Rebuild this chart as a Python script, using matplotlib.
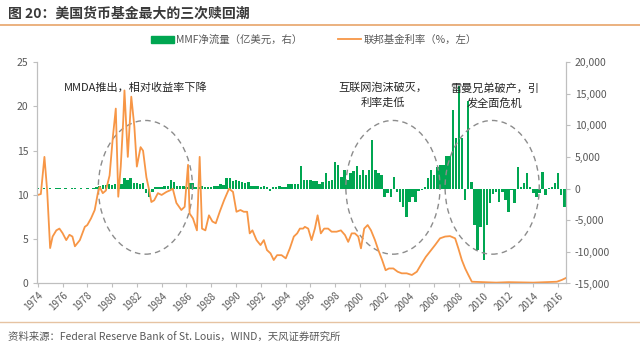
import numpy as np
import matplotlib.pyplot as plt
from matplotlib.patches import Ellipse, Patch
from matplotlib.lines import Line2D
from matplotlib.ticker import FuncFormatter

plt.rcParams["font.family"] = ["Noto Sans CJK SC", "DejaVu Sans"]

# MMF 净流量（亿美元），季度，1974Q1 - 2016Q3，每行一年
mmf_flow = [
    [120, -80, 150, -60],        # 1974
    [100, -120, 80, 140],        # 1975
    [-90, 120, -70, 110],        # 1976
    [130, -60, 100, -90],        # 1977
    [150, -80, 120, 200],        # 1978
    [450, 600, 550, 700],        # 1979
    [650, 750, 600, 800],        # 1980
    [1650, 1400, 1650, 900],     # 1981
    [850, 800, 900, -700],       # 1982
    [-1300, -600, 300, 200],     # 1983
    [250, 400, 350, 1400],       # 1984
    [1100, 400, 350, 400],       # 1985
    [300, 950, 900, 300],        # 1986
    [250, 350, 200, 300],        # 1987
    [250, 350, 400, 750],        # 1988
    [600, 1700, 1700, 1250],     # 1989
    [1300, 1250, 1000, 950],     # 1990
    [1000, 400, 350, 450],       # 1991
    [300, 400, 200, -350],       # 1992
    [300, 250, 350, 200],        # 1993
    [300, 750, 700, 800],        # 1994
    [700, 3500, 1375, 1300],     # 1995
    [1300, 1200, 1250, 700],     # 1996
    [1100, 2450, 1250, 1300],    # 1997
    [4150, 3750, 1900, 2950],    # 1998
    [1400, 2450, 2800, 3600],    # 1999
    [2200, 2950, 2200, 2950],    # 2000
    [7650, 2950, 2450, 2200],    # 2001
    [-1270, -750, -1270, 1900],  # 2002
    [-480, -2060, -2860, -4550], # 2003
    [-2060, -1270, -2060, -400], # 2004
    [-200, 300, 1640, 2960],     # 2005
    [2170, 3490, 3750, 3750],    # 2006
    [5080, 5080, 12400, 7990],   # 2007
    [16200, 7990, -1800, 13800], # 2008
    [1100, -5800, -9730, -6000], # 2009
    [-11300, -5800, -2330, -850],# 2010
    [-480, -2060, -480, -1800],  # 2011
    [-3650, -200, -2330, 3490],  # 2012
    [300, 850, 2440, 300],       # 2013
    [-750, -1270, -750, 2700],   # 2014
    [-1000, 150, 300, 850],      # 2015
    [2440, -1000, -2860],        # 2016
]
flow = np.concatenate(mmf_flow)
flow_x = 1974 + np.arange(len(flow)) * 0.25

# 联邦基金利率（%）
rate_years = [
    1974.0, 1974.25, 1974.54, 1974.76, 1975.0, 1975.2, 1975.5, 1975.75,
    1976.0, 1976.3, 1976.56, 1976.8, 1977.0, 1977.4, 1977.8, 1978.0,
    1978.3, 1978.6, 1978.85, 1979.0, 1979.25, 1979.5, 1979.8, 1980.06,
    1980.3, 1980.5, 1980.7, 1980.9, 1981.0, 1981.27, 1981.55, 1981.8,
    1982.0, 1982.3, 1982.5, 1982.77, 1983.0, 1983.17, 1983.4, 1983.7,
    1984.0, 1984.4, 1984.65, 1984.9, 1985.19, 1985.59, 1985.86, 1986.13,
    1986.26, 1986.53, 1986.85, 1987.07, 1987.26, 1987.53, 1987.82, 1988.1,
    1988.37, 1988.69, 1989.04, 1989.44, 1989.76, 1990.04, 1990.36, 1990.63,
    1990.9, 1991.11, 1991.33, 1991.66, 1991.98, 1992.25, 1992.5, 1992.79,
    1993.05, 1993.32, 1993.68, 1994.02, 1994.35, 1994.67, 1994.94, 1995.16,
    1995.42, 1995.56, 1995.83, 1996.1, 1996.37, 1996.59, 1996.85, 1997.12,
    1997.44, 1997.72, 1998.12, 1998.47, 1998.8, 1999.06, 1999.34, 1999.6,
    1999.87, 2000.09, 2000.35, 2000.63, 2000.9, 2001.22, 2001.49, 2001.8,
    2002.08, 2002.35, 2002.7, 2003.05, 2003.38, 2003.78, 2004.2, 2004.6,
    2005.0, 2005.32, 2005.66, 2006.07, 2006.47, 2006.88, 2007.28, 2007.69,
    2007.95, 2008.23, 2008.5, 2008.76, 2009.04, 2010.0, 2011.0, 2012.0,
    2013.0, 2014.0, 2015.0, 2015.9, 2016.3, 2016.6,
]
rate_values = [
    10.0, 10.1, 14.3, 10.5, 4.0, 5.3, 6.0, 6.2,
    5.7, 4.9, 5.5, 5.3, 4.2, 4.9, 6.4, 6.6,
    7.35, 8.3, 10.2, 10.9, 10.2, 10.5, 12.2, 16.5,
    19.75, 9.8, 13.2, 18.4, 21.8, 14.3, 21.1, 17.7,
    13.2, 15.4, 15.0, 12.0, 10.5, 9.2, 9.4, 10.2,
    10.0, 10.35, 10.5, 10.7, 9.1, 8.3, 8.66, 13.4,
    7.9, 7.35, 6.0, 14.3, 6.2, 6.0, 7.7, 7.0,
    6.8, 8.1, 9.4, 10.7, 10.35, 8.1, 8.3, 8.1,
    8.1, 5.66, 6.0, 4.9, 4.34, 4.9, 3.78, 3.4,
    2.65, 3.2, 3.2, 2.84, 3.97, 5.3, 5.66, 6.2,
    6.2, 6.4, 6.2, 4.9, 6.2, 7.7, 5.66, 6.2,
    6.2, 5.85, 5.85, 6.0, 5.47, 4.7, 5.66, 5.66,
    5.3, 3.97, 6.2, 6.6, 6.0, 4.9, 3.78, 2.65,
    1.5, 1.7, 1.7, 1.33, 1.15, 1.15, 0.96, 1.33,
    2.28, 3.0, 3.6, 4.34, 5.1, 5.3, 5.35, 5.1,
    3.97, 2.65, 1.7, 0.96, 0.2, 0.15, 0.1, 0.15,
    0.12, 0.1, 0.15, 0.2, 0.4, 0.6,
]

year_ticks = list(range(1974, 2017, 2))

green = "#00A651"
orange = "#F79646"
axis_grey = "#BFBFBF"
text_grey = "#595959"

fig = plt.figure(figsize=(6.4, 3.47), dpi=100)
ax = fig.add_axes([0.058, 0.183, 0.826, 0.638])
ax2 = ax.twinx()

ax2.bar(flow_x, flow, width=0.2, color=green, linewidth=0)
ax.plot(rate_years, rate_values, color=orange, lw=1.3)
ax.set_zorder(ax2.get_zorder() + 1)
ax.patch.set_visible(False)

ax.set_xlim(1973.95, 2016.62)
ax.set_ylim(0, 25)
ax.set_yticks(range(0, 26, 5))
ax2.set_ylim(-15000, 20000)
ax2.set_yticks(range(-15000, 20001, 5000))
ax2.yaxis.set_major_formatter(FuncFormatter(lambda v, p: f"{v:,.0f}"))

ax.set_xticks(year_ticks)
ax.set_xticklabels([str(y) for y in year_ticks], rotation=45, ha="right",
                   rotation_mode="anchor")

for a in (ax, ax2):
    a.spines["top"].set_visible(False)
    for s in ("left", "right", "bottom"):
        a.spines[s].set_color(axis_grey)
        a.spines[s].set_linewidth(0.8)
    a.tick_params(colors=axis_grey, labelcolor=text_grey, labelsize=7.5,
                  length=3, width=0.8)
ax.tick_params(axis="x", labelsize=7, pad=2)

# 三次赎回潮的标注圈
ellipse_style = dict(fill=False, ec="#8C8C8C", lw=1.0, ls=(0, (4, 3)))
for cx in (1982.69, 2002.67, 2010.68):
    ax.add_patch(Ellipse((cx, 10.86), 7.6, 15.1, **ellipse_style))

note_style = dict(fontsize=8, color="#262626", ha="center", va="center",
                  linespacing=1.5)
ax.text(1981.9, 22.15, "MMDA推出，相对收益率下降", **note_style)
ax.text(2001.86, 21.3, "互联网泡沫破灭，\n利率走低", **note_style)
ax.text(2010.84, 21.2, "雷曼兄弟破产，引\n发全面危机", **note_style)

handles = [Patch(color=green, label="MMF净流量（亿美元，右）"),
           Line2D([], [], color=orange, lw=1.3, label="联邦基金利率（%，左）")]
fig.legend(handles=handles, loc="center", bbox_to_anchor=(0.49, 0.885),
           ncol=2, frameon=False, fontsize=7.5, labelcolor=text_grey,
           handlelength=2.2, handletextpad=0.2, columnspacing=3.5)

fig.text(0.012, 0.962, "图 20：美国货币基金最大的三次赎回潮", fontsize=10,
         weight="bold", color="#3A3A3A", va="center")
fig.add_artist(Line2D([0, 1], [0.928, 0.928], color="#E8A46A", lw=1.2))
fig.add_artist(Line2D([0, 1], [0.072, 0.072], color="#E6C3A2", lw=1.0))
fig.text(0.013, 0.031, "资料来源：Federal Reserve Bank of St. Louis，WIND，天风证券研究所",
         fontsize=7.5, color=text_grey, va="center")

fig.savefig("out.png", dpi=100)
